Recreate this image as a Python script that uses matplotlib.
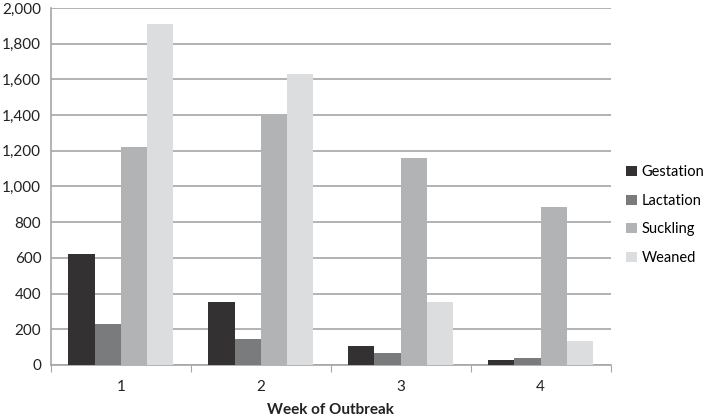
import numpy as np
import matplotlib.pyplot as plt
from matplotlib.ticker import FuncFormatter

weeks = ['1', '2', '3', '4']
series = ['Gestation', 'Lactation', 'Suckling', 'Weaned']
gestation = [620, 353, 108, 26]
lactation = [231, 146, 65, 41]
suckling = [1223, 1404, 1158, 887]
weaned = [1910, 1628, 355, 134]
colors = ['#333132', '#7a7b7d', '#b2b3b5', '#dcdddf']

plt.rcParams['font.family'] = ['Lato', 'DejaVu Sans']

fig = plt.figure(figsize=(7.11, 4.19), dpi=100)
ax = fig.add_axes([0.0717, 0.129, 0.787, 0.852])

x = np.arange(len(weeks))
width = 0.1875
for i, (name, vals) in enumerate(zip(series, [gestation, lactation, suckling, weaned])):
    ax.bar(x + (i - 1.5) * width, vals, width, color=colors[i], label=name, zorder=3)

ax.set_xlim(-0.5, len(weeks) - 0.5)
ax.set_ylim(0, 2000)
ax.set_yticks(range(0, 2001, 200))
ax.yaxis.set_major_formatter(FuncFormatter(lambda v, p: f'{int(v):,}'))
ax.grid(axis='y', color='#a6a6a6', linewidth=1.2, zorder=0)
ax.tick_params(axis='y', length=0, labelsize=11, pad=7, labelcolor='#222222')

# group boundaries get the tick marks, week numbers sit in between
ax.set_xticks(np.arange(-0.5, len(weeks)), minor=False)
ax.set_xticklabels([])
ax.set_xticks(x, minor=True)
ax.set_xticklabels(weeks, minor=True)
ax.tick_params(axis='x', which='major', length=5, color='#a6a6a6', direction='out')
ax.tick_params(axis='x', which='minor', length=0, labelsize=11, pad=11, labelcolor='#222222')

for s in ['top', 'right']:
    ax.spines[s].set_visible(False)
for s in ['left', 'bottom']:
    ax.spines[s].set_color('#a6a6a6')
    ax.spines[s].set_linewidth(1.2)

ax.set_xlabel('Week of Outbreak', fontsize=11, fontweight='bold', color='#222222', labelpad=6)

ax.legend(loc='center left', bbox_to_anchor=(1.005, 0.42), frameon=False, fontsize=10.5,
          handlelength=0.7, handleheight=0.7, handletextpad=0.35, labelspacing=1.0)

fig.savefig('out.png', dpi=100)
